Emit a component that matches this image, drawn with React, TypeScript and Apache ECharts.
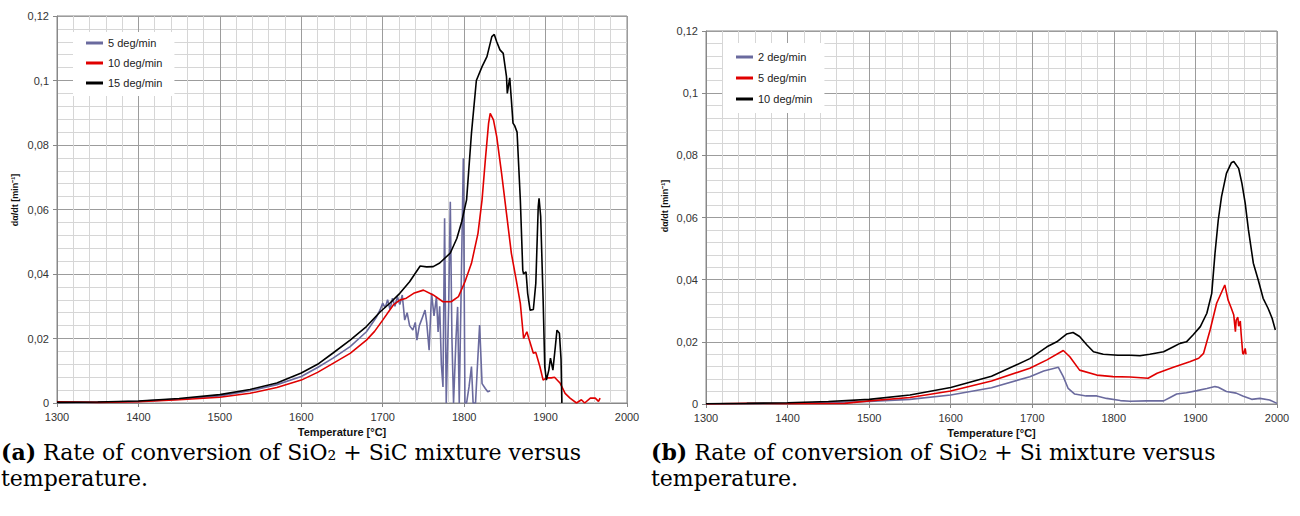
import React, { useEffect, useRef } from "react";
import * as echarts from "echarts";

// (a) SiO2 + SiC mixture: [temperature °C, dα/dt min^-1]
const sic5: [number, number][] = [
  [1300, 0.0002], [1350, 0.0002], [1400, 0.0005], [1450, 0.0012], [1500, 0.0022], [1537, 0.0038],
  [1570, 0.0057], [1600, 0.0082], [1620, 0.011], [1639, 0.0139], [1660, 0.0175], [1680, 0.0221],
  [1692, 0.0265], [1697, 0.029], [1700, 0.031], [1703, 0.0295], [1706, 0.032], [1709, 0.029],
  [1712, 0.0325], [1715, 0.03], [1718, 0.033], [1721, 0.0305], [1724, 0.0335], [1727, 0.0257],
  [1730, 0.028], [1733, 0.024], [1737, 0.0226], [1740, 0.025], [1742, 0.0195], [1745, 0.024],
  [1748, 0.026], [1752, 0.0288], [1754, 0.025], [1757, 0.0164], [1760, 0.034], [1763, 0.027],
  [1766, 0.0329], [1768, 0.022], [1770, 0.03], [1772, 0.012], [1774, 0.005], [1776, 0.0573],
  [1778, 0], [1781, 0.03], [1783, 0.0624], [1785, 0.02], [1787, 0], [1790, 0.02], [1792, 0.0298],
  [1794, 0], [1796, 0.03], [1799, 0.0759], [1801, 0], [1803, 0], [1806, 0.005], [1809, 0.0113],
  [1811, 0], [1814, 0], [1816, 0.01], [1819, 0.0242], [1822, 0.006], [1826, 0.0045], [1829, 0.0035],
  [1832, 0.0038],
];
const sic10: [number, number][] = [
  [1300, 0.0004], [1350, 0.0002], [1400, 0.0004], [1450, 0.001], [1500, 0.0018], [1537, 0.003],
  [1570, 0.0048], [1600, 0.0071], [1620, 0.0095], [1639, 0.0123], [1660, 0.0154], [1680, 0.0195],
  [1690, 0.0222], [1700, 0.0257], [1713, 0.0304], [1721, 0.0319], [1729, 0.0325], [1738, 0.034],
  [1750, 0.035], [1762, 0.0335], [1774, 0.0314], [1784, 0.0314], [1793, 0.033], [1801, 0.0376],
  [1809, 0.0433], [1817, 0.0526], [1822, 0.063], [1826, 0.0753], [1830, 0.0867], [1832, 0.0898],
  [1836, 0.0878], [1840, 0.0826], [1846, 0.0712], [1852, 0.0588], [1858, 0.0464], [1864, 0.0381],
  [1869, 0.0309], [1873, 0.02], [1877, 0.0221], [1879, 0.0204], [1885, 0.0154], [1888, 0.0157],
  [1893, 0.0113], [1897, 0.0071], [1901, 0.0078], [1907, 0.0078], [1911, 0.008], [1918, 0.0061],
  [1924, 0.003], [1930, 0.0015], [1938, 0], [1944, 0.001], [1948, 0], [1955, 0.0015], [1961, 0.0015],
  [1965, 0.0005], [1967, 0.0015],
];
const sic15: [number, number][] = [
  [1300, 0.0002], [1350, 0.0003], [1400, 0.0006], [1450, 0.0014], [1500, 0.0026], [1537, 0.0042],
  [1570, 0.0062], [1600, 0.0093], [1620, 0.012], [1639, 0.0155], [1660, 0.0195], [1680, 0.0237],
  [1697, 0.0283], [1709, 0.031], [1721, 0.034], [1733, 0.0376], [1746, 0.0425], [1754, 0.0422],
  [1762, 0.0423], [1770, 0.0434], [1783, 0.0465], [1791, 0.051], [1797, 0.0562], [1803, 0.063],
  [1809, 0.0837], [1815, 0.1], [1822, 0.1043], [1828, 0.1074], [1834, 0.1136], [1837, 0.1143],
  [1840, 0.112], [1844, 0.1095], [1848, 0.1084], [1852, 0.1012], [1853, 0.096], [1856, 0.1008],
  [1858, 0.094], [1860, 0.0868], [1862, 0.086], [1865, 0.084], [1869, 0.063], [1872, 0.0412],
  [1873, 0.04], [1876, 0.0407], [1878, 0.034], [1881, 0.0288], [1885, 0.029], [1888, 0.0371],
  [1891, 0.0609], [1892, 0.0635], [1894, 0.0578], [1897, 0.032], [1899, 0.0113], [1901, 0.0071],
  [1904, 0.0102], [1906, 0.0139], [1909, 0.0102], [1912, 0.0175], [1914, 0.0226], [1917, 0.0216],
  [1919, 0.0136], [1920, 0],
];

// (b) SiO2 + Si mixture
const si2: [number, number][] = [
  [1300, 0], [1400, 0.0002], [1500, 0.0008], [1550, 0.0015], [1600, 0.0029], [1650, 0.0052],
  [1697, 0.0088], [1714, 0.0106], [1732, 0.0118], [1738, 0.0088], [1744, 0.005], [1752, 0.0032],
  [1766, 0.0026], [1779, 0.0026], [1791, 0.0018], [1808, 0.0011], [1820, 0.0009], [1840, 0.001],
  [1861, 0.001], [1869, 0.0021], [1877, 0.0032], [1889, 0.0036], [1902, 0.0043], [1914, 0.005],
  [1924, 0.0056], [1928, 0.0054], [1938, 0.004], [1950, 0.0035], [1958, 0.0026], [1969, 0.0015],
  [1979, 0.0018], [1991, 0.0013], [2000, 0.0002],
];
const si5: [number, number][] = [
  [1300, 0], [1350, 0.0002], [1400, 0.0001], [1470, 0.0002], [1500, 0.001], [1550, 0.0021],
  [1600, 0.0042], [1650, 0.0074], [1697, 0.0115], [1718, 0.0142], [1738, 0.0172], [1746, 0.0152],
  [1758, 0.0109], [1779, 0.0093], [1799, 0.0088], [1820, 0.0087], [1842, 0.0083], [1853, 0.0099],
  [1873, 0.0118], [1893, 0.0136], [1904, 0.0147], [1910, 0.0163], [1918, 0.0238], [1926, 0.0324],
  [1936, 0.0383], [1940, 0.0335], [1944, 0.0308], [1947, 0.0286], [1949, 0.0233], [1950, 0.027],
  [1952, 0.0279], [1953, 0.025], [1955, 0.0267], [1956, 0.0227], [1958, 0.0163], [1959, 0.016],
  [1961, 0.0179], [1962, 0.016],
];
const si10: [number, number][] = [
  [1300, 0.0001], [1350, 0.0002], [1400, 0.0004], [1450, 0.0008], [1500, 0.0015], [1550, 0.0029],
  [1600, 0.0053], [1650, 0.0089], [1697, 0.0146], [1718, 0.0184], [1730, 0.02], [1742, 0.0225],
  [1750, 0.023], [1758, 0.0217], [1767, 0.019], [1775, 0.0168], [1787, 0.016], [1805, 0.0157],
  [1820, 0.0157], [1832, 0.0155], [1844, 0.016], [1861, 0.0168], [1873, 0.0184], [1881, 0.0195],
  [1889, 0.02], [1897, 0.0222], [1906, 0.0249], [1914, 0.0292], [1920, 0.0356], [1924, 0.0485],
  [1928, 0.0592], [1932, 0.0667], [1938, 0.0742], [1944, 0.0776], [1947, 0.078], [1953, 0.0758],
  [1957, 0.071], [1961, 0.0646], [1965, 0.056], [1971, 0.0453], [1977, 0.0399], [1983, 0.034],
  [1989, 0.0308], [1994, 0.0276], [1998, 0.0238],
];

const leftRates = ["5", "10", "15"];
const rightRates = ["2", "5", "10"];
const lineColors = ["#6A6A9E", "#E00000", "#000000"];
const captionA = "Rate of conversion of SiO\u2082 + SiC mixture versus\ntemperature.";
const captionB = "Rate of conversion of SiO\u2082 + Si mixture versus\ntemperature.";
const xName = "Temperature [°C]";
const yName = "dα/dt [min\u207B\u00B9]";

const SANS = "Liberation Sans, Arial, sans-serif";
const SERIF = "DejaVu Serif, serif";

const fmtY = (v: number) =>
  v === 0 ? "0" : String(parseFloat(v.toFixed(3))).replace(".", ",");

export default function App() {
  const ref = useRef<HTMLDivElement>(null);
  useEffect(() => {
    const chart = echarts.init(ref.current!, null, { renderer: "svg" });
    const mkX = (gridIndex: number) => ({
      type: "value",
      gridIndex,
      min: 1300,
      max: 2000,
      interval: 100,
      axisLine: { show: true, onZero: false, lineStyle: { color: "#888" } },
      axisTick: { show: true, length: 4, lineStyle: { color: "#888" } },
      axisLabel: { fontFamily: SANS, fontSize: 11, color: "#333", margin: 8, formatter: (v: number) => String(v) },
      splitLine: { show: true, lineStyle: { color: "#9c9c9c", width: 1 } },
      minorTick: { show: false, splitNumber: 5 },
      minorSplitLine: { show: true, lineStyle: { color: "#d6d6d6", width: 1 } },
      name: xName,
      nameLocation: "middle",
      nameGap: 15,
      nameTextStyle: { fontFamily: SANS, fontSize: 11, fontWeight: "bold", color: "#111" },
    });
    const mkY = (gridIndex: number) => ({
      type: "value",
      gridIndex,
      min: 0,
      max: 0.12,
      interval: 0.02,
      axisLine: { show: true, lineStyle: { color: "#888" } },
      axisTick: { show: true, length: 4, lineStyle: { color: "#888" } },
      axisLabel: { fontFamily: SANS, fontSize: 11, color: "#333", margin: 8, formatter: fmtY },
      splitLine: { show: true, lineStyle: { color: "#9c9c9c", width: 1 } },
      minorTick: { show: false, splitNumber: 5 },
      minorSplitLine: { show: true, lineStyle: { color: "#d6d6d6", width: 1 } },
    });
    const mkSeries = (name: string, data: [number, number][], idx: number, color: string) => ({
      name,
      type: "line",
      xAxisIndex: idx,
      yAxisIndex: idx,
      data,
      showSymbol: false,
      symbol: "none",
      clip: true,
      lineStyle: { color, width: 1.6 },
      itemStyle: { color },
    });
    const leftData = [sic5, sic10, sic15];
    const rightData = [si2, si5, si10];
    const series: any[] = [];
    leftRates.forEach((r, i) => series.push(mkSeries("a" + r, leftData[i], 0, lineColors[i])));
    rightRates.forEach((r, i) => series.push(mkSeries("b" + r, rightData[i], 1, lineColors[i])));
    const legendBase = {
      orient: "vertical",
      icon: "rect",
      itemWidth: 17,
      itemHeight: 3,
      itemTextGap: 3,
      backgroundColor: "#ffffff",
      formatter: (n: string) => n.slice(1) + " deg/min",
      textStyle: { fontFamily: SANS, fontSize: 11, color: "#222", lineHeight: 14 },
    };
    const yTitle = (x: number, y: number) => ({
      type: "text",
      x,
      y,
      rotation: Math.PI / 2,
      style: {
        text: yName,
        fontFamily: SANS,
        fontSize: 9,
        fontWeight: "bold",
        fill: "#111",
        align: "center",
        verticalAlign: "middle",
      },
    });
    const caption = (left: number, tag: string, body: string) => ({
      type: "text",
      left,
      top: 439,
      style: {
        text: "{b|" + tag + "} " + body,
        fontFamily: SERIF,
        fontSize: 22,
        lineHeight: 26,
        fill: "#000",
        rich: { b: { fontFamily: SERIF, fontSize: 22, fontWeight: "bold", lineHeight: 26 } },
      },
    });
    chart.setOption({
      animation: false,
      backgroundColor: "#ffffff",
      grid: [
        { left: 57, top: 16, width: 570, height: 387, show: true, borderColor: "#888", borderWidth: 1 },
        { left: 706, top: 31, width: 571, height: 373, show: true, borderColor: "#888", borderWidth: 1 },
      ],
      xAxis: [mkX(0), mkX(1)],
      yAxis: [mkY(0), mkY(1)],
      legend: [
        { ...legendBase, left: 73, top: 32, padding: [4, 12, 6, 13], itemGap: 6, data: leftRates.map((r) => "a" + r) },
        { ...legendBase, left: 723, top: 43, padding: [7, 12, 7, 13], itemGap: 7, data: rightRates.map((r) => "b" + r) },
      ],
      series,
      graphic: [
        yTitle(15, 200),
        yTitle(665, 206),
        caption(1, "(a)", captionA),
        caption(651, "(b)", captionB),
      ],
    });
    return () => chart.dispose();
  }, []);
  return (
    <div
      ref={ref}
      style={{ position: "fixed", left: 0, top: 0, width: 1300, height: 516, background: "#fff" }}
    />
  );
}
